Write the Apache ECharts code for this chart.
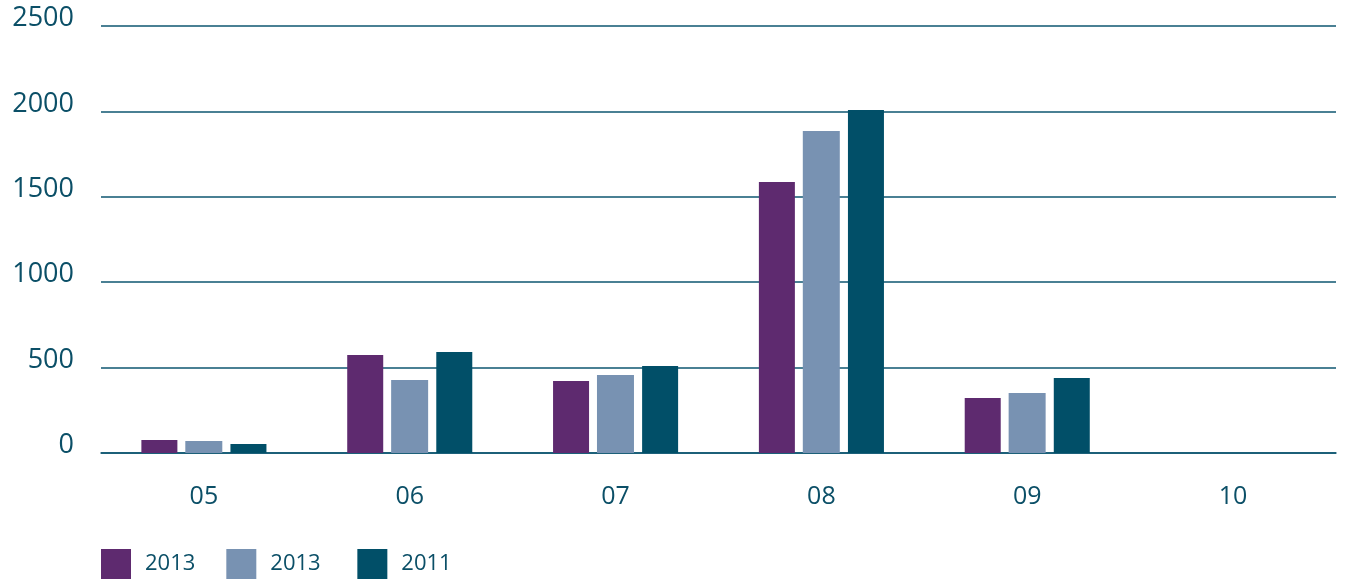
<!DOCTYPE html>
<html>
<head>
<meta charset="utf-8">
<script src="https://cdn.jsdelivr.net/npm/echarts@6/dist/echarts.min.js"></script>
<style>
  html, body { margin: 0; padding: 0; background: #fff; }
  #main { width: 1347px; height: 584px; }
</style>
</head>
<body>
<div id="main"></div>
<script>
  var categories = ['05', '06', '07', '08', '09', '10'];
  var seriesNames = ['2013', '2013 ', '2011'];
  var purpleValues = [76, 574, 421, 1587, 322, null];
  var lightValues = [70, 427, 457, 1885, 351, null];
  var darkValues = [53, 591, 509, 2008, 439, null];
  var yTicks = [0, 500, 1000, 1500, 2000, 2500];

  var textColor = '#0b4f67';
  var lineColor = '#0e5670';
  var colors = ['#5e2a6f', '#7892b2', '#014f68'];

  var myChart = echarts.init(document.getElementById('main'));

  var option = {
    backgroundColor: '#fff',
    animation: false,
    color: colors,
    grid: { left: 101, right: 11, top: 26, bottom: 131 },
    legend: {
      left: 101,
      top: 549,
      padding: 0,
      icon: 'rect',
      itemWidth: 30,
      itemHeight: 30,
      itemGap: 31,
      data: seriesNames,
      textStyle: {
        color: textColor,
        fontFamily: 'Open Sans',
        fontSize: 22,
        padding: [4, 0, 0, 9]
      }
    },
    xAxis: {
      type: 'category',
      data: categories,
      axisTick: { show: false },
      axisLine: { show: true, lineStyle: { color: lineColor, width: 1.5 } },
      axisLabel: {
        color: textColor,
        fontFamily: 'Open Sans',
        fontSize: 25,
        margin: 31
      }
    },
    yAxis: {
      type: 'value',
      min: yTicks[0],
      max: yTicks[yTicks.length - 1],
      interval: 500,
      axisLine: { show: false },
      axisTick: { show: false },
      splitLine: { lineStyle: { color: lineColor, width: 1.5 } },
      axisLabel: {
        color: textColor,
        fontFamily: 'Open Sans',
        fontSize: 27,
        margin: 27,
        verticalAlign: 'bottom',
        lineHeight: 15,
        formatter: function (v) { return String(v); }
      }
    },
    series: [
      { name: seriesNames[0], type: 'bar', data: purpleValues, barWidth: 36, barGap: '22%' },
      { name: seriesNames[1], type: 'bar', data: lightValues, barWidth: 37, barGap: '22%' },
      { name: seriesNames[2], type: 'bar', data: darkValues, barWidth: 36, barGap: '22%' }
    ]
  };

  myChart.setOption(option);
</script>
</body>
</html>
